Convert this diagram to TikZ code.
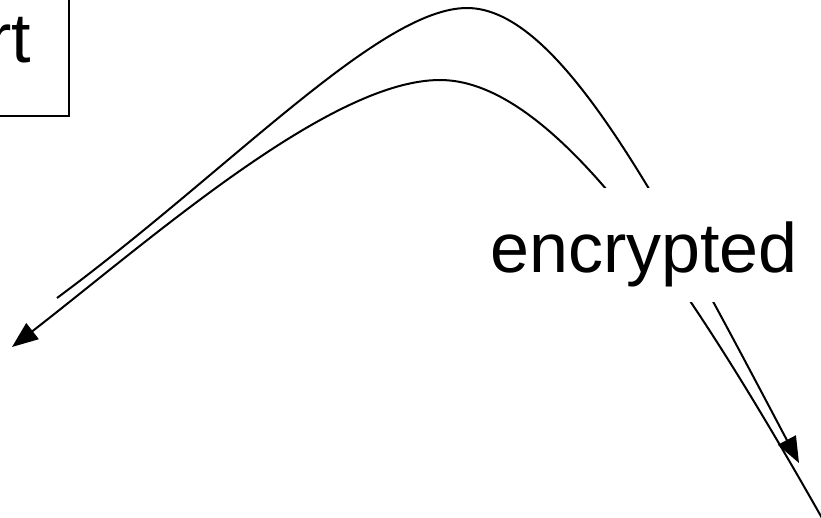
\documentclass[tikz,border=0pt]{standalone}
\usepackage{fontspec}
\setmainfont{Liberation Sans}
\usetikzlibrary{arrows.meta}
\begin{document}
\begin{tikzpicture}[x=1pt, y=-1pt, line width=2pt,
    arr/.style={-{Triangle[length=26pt, width=20pt]}},
    lbl/.style={font=\fontsize{70}{84}\selectfont, inner sep=0pt}]
    \path[use as bounding box, clip] (0,0) rectangle (821,517);

    \node[lbl, draw, text width=100pt, align=right, inner xsep=38pt,
          text height=70pt, text depth=54pt, anchor=south east] (start) at (70,117) {rt};

    \coordinate (o1) at (57,298);
    \coordinate (top1) at (467,8);
    \coordinate (o2) at (799,463);
    \draw[arr] (o1) .. controls (230,170) and (380,8) .. (top1)
        .. controls (560,8) and (660,200) .. (o2);

    \coordinate (i1) at (840,550);
    \coordinate (top2) at (440,80);
    \coordinate (i2) at (12,347);
    \draw[arr] (i1) .. controls (700,300) and (560,80) .. (top2)
        .. controls (330,80) and (150,240) .. (i2);

    \node[lbl, fill=white, text height=84pt, text depth=30pt, anchor=base] (enc) at (644,272) {encrypted};
\end{tikzpicture}
\end{document}
